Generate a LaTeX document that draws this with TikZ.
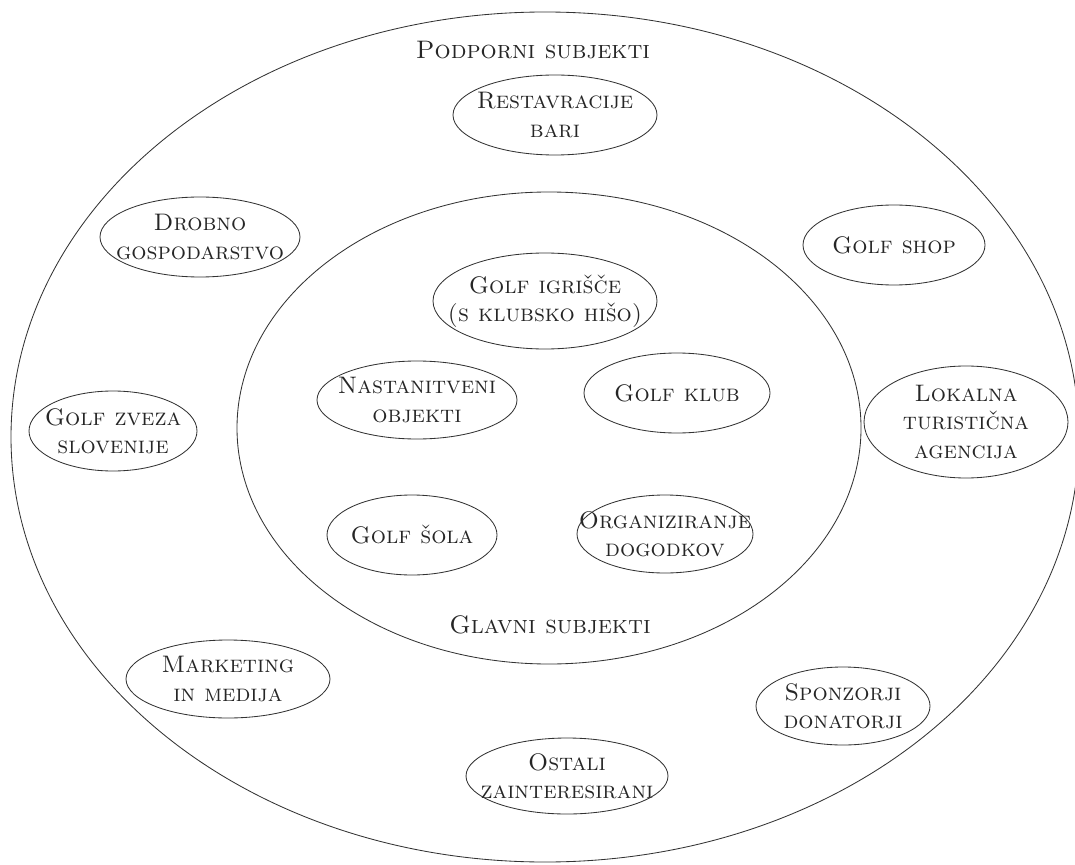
\documentclass[tikz,border=0pt]{standalone}
\usepackage{tikz}
\usetikzlibrary{positioning}
\tikzset{
  sub/.style={align=center,inner sep=0pt,font=\fontsize{17}{20}\selectfont\scshape,text=black!85},
  grp/.style={inner sep=0pt,font=\fontsize{18}{21}\selectfont\scshape,text=black!85},
  oval/.style={draw=black!80,line width=0.6pt},
}

\begin{document}
\begin{tikzpicture}[x=0.025cm,y=-0.025cm]
  \clip (0,0) rectangle (1075,865);
  % outer and inner ring
  \coordinate (outer) at (545,437);
  \coordinate (inner) at (549,428);
  \draw[oval] (outer) ellipse [x radius=534, y radius=425];
  \draw[oval] (inner) ellipse [x radius=312, y radius=236];
  \node[grp] (podp) at (533,50) {Podporni subjekti};
  \node[grp] (glav) at (550,625) {Glavni subjekti};

  % supporting subjects
  \node[sub] (rest) at (555,115) {Restavracije\\bari};
  \draw[oval] (rest) ellipse [x radius=102, y radius=40];
  \node[sub] (drob) at (200,237) {Drobno\\gospodarstvo};
  \draw[oval] (drob) ellipse [x radius=100, y radius=40];
  \node[sub] (shop) at (894,245) {Golf shop};
  \draw[oval] (shop) ellipse [x radius=91, y radius=40];
  \node[sub] (zvez) at (113,431) {Golf zveza\\slovenije};
  \draw[oval] (zvez) ellipse [x radius=84, y radius=40];
  \node[sub] (agen) at (966,422) {Lokalna\\turistična\\agencija};
  \draw[oval] (agen) ellipse [x radius=102, y radius=56];
  \node[sub] (mark) at (228,679) {Marketing\\in medija};
  \draw[oval] (mark) ellipse [x radius=102, y radius=39];
  \node[sub] (spon) at (843,706) {Sponzorji\\donatorji};
  \draw[oval] (spon) ellipse [x radius=87, y radius=39];
  \node[sub] (osta) at (567,776) {Ostali\\zainteresirani};
  \draw[oval] (osta) ellipse [x radius=101, y radius=38];

  % main subjects
  \node[sub] (igri) at (545,301) {Golf igrišče\\(s klubsko hišo)};
  \draw[oval] (igri) ellipse [x radius=112, y radius=48];
  \node[sub] (nast) at (417,400) {Nastanitveni\\objekti};
  \draw[oval] (nast) ellipse [x radius=100, y radius=39];
  \node[sub] (klub) at (677,393) {Golf klub};
  \draw[oval] (klub) ellipse [x radius=93, y radius=40];
  \node[sub] (sola) at (412,535) {Golf šola};
  \draw[oval] (sola) ellipse [x radius=85, y radius=40];
  \node[sub] (dogo) at (665,534) {Organiziranje\\dogodkov};
  \draw[oval] (dogo) ellipse [x radius=88, y radius=39];
\end{tikzpicture}
\end{document}
